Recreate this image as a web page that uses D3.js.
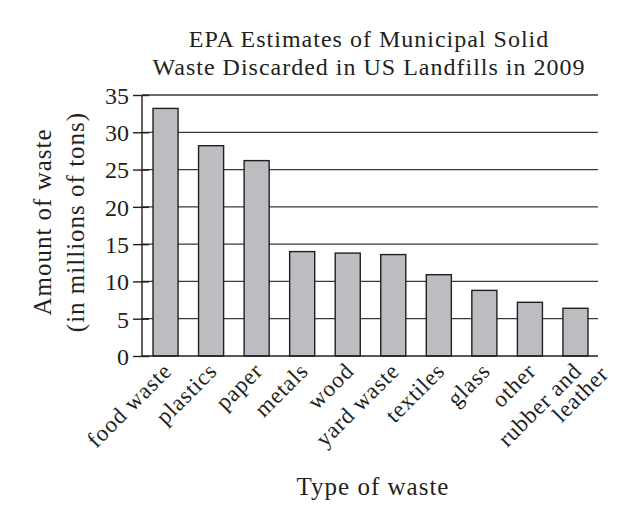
<!DOCTYPE html>
<html>
<head>
<meta charset="utf-8">
<script src="https://d3js.org/d3.v7.min.js"></script>
<style>
  body { margin: 0; background: #fff; }
  text { font-family: "Liberation Serif", serif; fill: #231f20; }
</style>
</head>
<body>
<div class="contain"></div>
<script>
// data
const categories = ["food waste", "plastics", "paper", "metals", "wood",
  "yard waste", "textiles", "glass", "other", "rubber and leather"];
const amounts = [33.2, 28.2, 26.2, 14.0, 13.8, 13.6, 10.9, 8.8, 7.2, 6.4];
const yTicks = [0, 5, 10, 15, 20, 25, 30, 35];
const titleLines = ["EPA Estimates of Municipal Solid", "Waste Discarded in US Landfills in 2009"];
const yTitleLines = ["Amount of waste", "(in millions of tons)"];
const xTitle = "Type of waste";

const svg_width = 635;
const svg_height = 515;
const plot_left = 142, plot_right = 598, plot_top = 95, plot_bottom = 356;
const serif = "Liberation Serif";

let svg = d3.select(".contain").append("svg")
            .attr("width", svg_width).attr("height", svg_height);

let xScale = d3.scaleBand()
                .domain(categories)
                .range([plot_left + 1, plot_right])
                .paddingInner(0.45)
                .paddingOuter(0.22);

let yScale = d3.scaleLinear()
                .domain([0, 35])
                .range([plot_bottom, plot_top]);

// gridlines
svg.append("g").selectAll("line")
  .data(yTicks.filter(d => d > 0)).enter().append("line")
  .attr("x1", plot_left).attr("x2", plot_right)
  .attr("y1", d => yScale(d)).attr("y2", d => yScale(d))
  .attr("stroke", "#3a3a3a").attr("stroke-width", 1.3);

// bars
svg.append("g").selectAll("rect")
  .data(amounts).enter().append("rect")
  .attr("x", (d, i) => xScale(categories[i]))
  .attr("y", d => yScale(d))
  .attr("width", xScale.bandwidth())
  .attr("height", d => plot_bottom - yScale(d))
  .attr("fill", "#bcbdc0")
  .attr("stroke", "#231f20")
  .attr("stroke-width", 1.4);

// y axis
let yAxis = d3.axisLeft(yScale).tickValues(yTicks).tickSize(9).tickPadding(4);
let gy = svg.append("g")
  .attr("transform", `translate(${plot_left}, 0)`)
  .call(yAxis);
gy.select(".domain").attr("stroke", "#231f20").attr("stroke-width", 1.4)
  .attr("d", `M0,${plot_top}V${plot_bottom}`);
gy.selectAll(".tick line").attr("stroke", "#231f20").attr("stroke-width", 1.4)
  .attr("x2", -9).attr("x1", 7);
gy.selectAll(".tick text")
  .attr("font-size", 24).attr("font-family", serif)
  .attr("fill", "#231f20").attr("dy", "0.35em");

// x axis baseline
svg.append("line")
  .attr("x1", plot_left).attr("x2", plot_right)
  .attr("y1", plot_bottom).attr("y2", plot_bottom)
  .attr("stroke", "#231f20").attr("stroke-width", 1.4);

// x tick labels, rotated
let xl = svg.append("g").selectAll("text")
  .data(categories).enter().append("text")
  .attr("transform", d => `translate(${xScale(d) + xScale.bandwidth() / 2 - 4}, ${plot_bottom + 5}) rotate(-45)`)
  .attr("text-anchor", "end")
  .attr("font-size", 23)
  .attr("letter-spacing", 0.8);
xl.each(function(d) {
  let words = d === "rubber and leather" ? ["rubber and", "leather"] : [d];
  let t = d3.select(this);
  words.forEach((w, i) => {
    t.append("tspan").attr("x", i * 17).attr("y", i * 21).attr("dy", "0.7em").text(w);
  });
});

// title
svg.append("g").selectAll("text")
  .data(titleLines).enter().append("text")
  .attr("x", 369).attr("y", (d, i) => 47 + i * 28)
  .attr("text-anchor", "middle").attr("font-size", 24)
  .attr("letter-spacing", 1)
  .text(d => d);

// y title
svg.append("g").selectAll("text")
  .data(yTitleLines).enter().append("text")
  .attr("transform", (d, i) => `translate(${51 + i * 33}, 222) rotate(-90)`)
  .attr("text-anchor", "middle").attr("font-size", 25)
  .attr("letter-spacing", 1)
  .text(d => d);

// x title
svg.append("text")
  .attr("x", 373).attr("y", 495)
  .attr("text-anchor", "middle").attr("font-size", 25)
  .attr("letter-spacing", 1)
  .text(xTitle);
</script>
</body>
</html>
